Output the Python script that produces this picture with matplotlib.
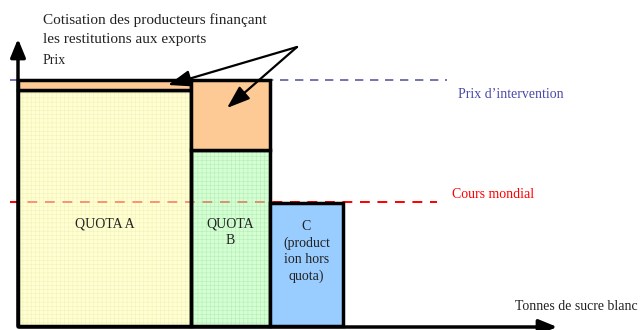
import numpy as np
import matplotlib.pyplot as plt
from matplotlib.patches import Rectangle

plt.rcParams['font.family'] = ['Liberation Serif', 'DejaVu Serif']
plt.rcParams['hatch.linewidth'] = 0.4

# quantities (px-like units along the x axis) and prices (units along y)
quota_names = ['QUOTA A', 'QUOTA\nB', 'C\n(product\nion hors\nquota)']
quota_widths = [173, 79, 73]
intervention_price = 246
cotisation = [10, 70]          # levy on A and on B
world_price = 124
c_price = 123

yellow = (1.0, 1.0, 0.8, 0.85)
green = (0.8, 1.0, 0.8, 0.85)
grid_cols = ['#f2f2b8', '#b8ecb8']
orange = '#fdca95'
blue = '#99ccff'

fig = plt.figure(figsize=(6.44, 3.30), dpi=100)
ax = fig.add_axes([0, 0, 1, 1])
ax.set_xlim(-18, 626)
ax.set_ylim(-4, 326)
ax.axis('off')

lefts = np.concatenate([[0], np.cumsum(quota_widths)[:-1]])

# price lines
ax.plot([-8, 429], [intervention_price] * 2, color='#5b5ba8', lw=1.2,
        dashes=(5, 4), zorder=1)
ax.plot([-8, 419], [world_price] * 2, color='red', lw=1.4,
        dashes=(5, 4), zorder=1)
# shows faintly through the quota fills
ax.plot([-8, 419], [world_price] * 2, color='red', lw=1.4,
        dashes=(5, 4), alpha=0.35, zorder=2.5)

# quota A and B: paid part + levy part
fills = [yellow, green]
for i in range(2):
    net = intervention_price - cotisation[i]
    ax.add_patch(Rectangle((lefts[i], 0), quota_widths[i], net,
                           facecolor=fills[i], edgecolor=grid_cols[i], lw=0,
                           hatch='++++', zorder=2))
    ax.add_patch(Rectangle((lefts[i], 0), quota_widths[i], net,
                           fill=False, edgecolor='black', lw=2.5, zorder=3))
    ax.add_patch(Rectangle((lefts[i], net), quota_widths[i], cotisation[i],
                           facecolor=orange, edgecolor='black', lw=2.5,
                           zorder=3))

# quota C
ax.add_patch(Rectangle((lefts[2], 0), quota_widths[2], c_price,
                       facecolor=blue, edgecolor='black', lw=2.5, zorder=3))

# labels in bars
label_y = [102, 93.5, 74.5]
for i, name in enumerate(quota_names):
    ax.text(lefts[i] + quota_widths[i] / 2, label_y[i], name,
            ha='center', va='center', fontsize=10, linespacing=1.3,
            color='#222222', zorder=4)

# axes with arrows
ax.annotate('', xy=(0, 290), xytext=(0, -3),
            arrowprops=dict(arrowstyle='-|>,head_width=0.45,head_length=1.1',
                            lw=2.5, color='black'))
ax.annotate('', xy=(542, -1), xytext=(-2, -1),
            arrowprops=dict(arrowstyle='-|>,head_width=0.45,head_length=1.1',
                            lw=2.5, color='black'))

# texts
ax.text(25, 266, 'Prix', fontsize=10, va='center', color='#222222')
ax.text(25, 296, 'Cotisation des producteurs finançant\nles restitutions aux exports',
        fontsize=11, va='center', linespacing=1.6, color='#222222')
ax.text(440, 231, 'Prix d\u2019intervention', fontsize=10, va='center',
        color='#4a4aa8')
ax.text(434, 131, 'Cours mondial', fontsize=10, va='center', color='red')
ax.text(497, 19, 'Tonnes de sucre blanc', fontsize=10, va='center',
        color='#222222')

# arrows pointing to the levy
for target in [(150, 241), (209, 218)]:
    ax.annotate('', xy=target, xytext=(279, 279),
                arrowprops=dict(arrowstyle='-|>,head_width=0.5,head_length=1.4',
                                lw=1.6, color='black', shrinkA=0, shrinkB=0),
                zorder=5)

fig.savefig('out.png', dpi=100)
